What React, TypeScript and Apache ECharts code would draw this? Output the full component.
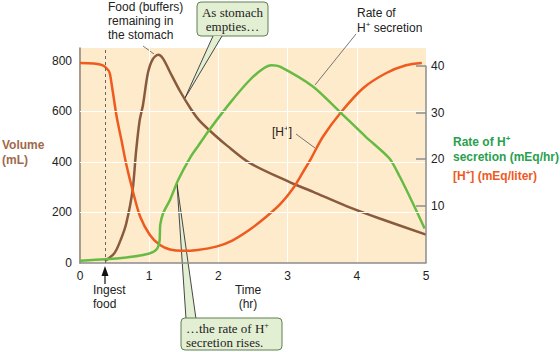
import React, { useEffect, useRef } from "react";
import * as echarts from "echarts";

// Time in hours
const volumeTime = [0.36, 0.5, 0.6, 0.67, 0.76, 0.81, 0.86, 0.91, 0.98, 1.05, 1.13, 1.2, 1.3, 1.44, 1.6, 1.73, 1.97, 2.12, 2.45, 3.03, 3.37, 3.85, 4.33, 5.0];
const volumeValues = [8, 40, 100, 158, 288, 440, 560, 625, 749, 805, 823, 808, 755, 682, 610, 562, 500, 465, 396, 320, 281, 225, 176, 112];

const hConcTime = [0, 0.2, 0.33, 0.4, 0.43, 0.47, 0.53, 0.6, 0.67, 0.76, 0.87, 1.01, 1.15, 1.3, 1.49, 1.7, 1.97, 2.2, 2.45, 2.7, 2.9, 3.08, 3.22, 3.34, 3.51, 3.78, 4.09, 4.42, 4.71, 4.94];
const hConcValues = [40.6, 40.5, 40.1, 39.2, 38.4, 34.8, 29.1, 24.0, 18.8, 13.4, 7.7, 3.8, 1.7, 0.7, 0.4, 0.6, 1.3, 2.6, 4.9, 7.8, 10.5, 13.8, 17.2, 20.2, 24.8, 30.2, 35.2, 38.4, 40.1, 40.6];

const rateTime = [0, 0.36, 0.67, 0.91, 1.06, 1.12, 1.15, 1.16, 1.2, 1.3, 1.42, 1.59, 1.71, 1.85, 2.16, 2.45, 2.65, 2.77, 2.89, 3.37, 3.75, 4.13, 4.47, 4.62, 4.81, 4.98];
const rateValues = [-1.7, -1.4, -1.0, -0.5, 0.2, 1.0, 2.6, 6.0, 8.4, 11.3, 15.6, 20.3, 22.9, 25.9, 31.9, 36.9, 39.4, 40.1, 39.8, 35.5, 30.2, 24.8, 20.2, 16.3, 10.6, 5.2];

const xTicks = [0, 1, 2, 3, 4, 5];
const volumeTicks = [0, 200, 400, 600, 800];
const rateTicks = [10, 20, 30, 40];
const volumeGrid = [200, 400, 600];
const ingestTime = 0.36;

const BROWN = "#8a5a3c";
const ORANGE = "#ef5a1e";
const GREEN = "#66bb44";
const SANS = "Liberation Sans, Arial, sans-serif";
const SERIF = "Liberation Serif, Times New Roman, serif";

const zip = (xs: number[], ys: number[]) => xs.map((x, i) => [x, ys[i]]);

export default function App() {
  const ref = useRef<HTMLDivElement>(null);
  useEffect(() => {
    if (!ref.current) return;
    const chart = echarts.init(ref.current, undefined, { renderer: "svg" });
    const lead = { stroke: "#555", lineWidth: 0.8 };
    const supRich = (color: string, size: number, bold: boolean, family: string) => ({
      n: { fontSize: size, fontWeight: bold ? "bold" : "normal", fill: color, fontFamily: family, lineHeight: 15 },
      s: { fontSize: Math.round(size * 0.65), fontWeight: bold ? "bold" : "normal", fill: color, fontFamily: family, verticalAlign: "top", lineHeight: 15 },
    });
    chart.setOption({
      animation: false,
      grid: { left: 80, right: 134, top: 48, bottom: 89, show: true, backgroundColor: "#fdebcc", borderWidth: 0 },
      xAxis: {
        type: "value", min: 0, max: 5, interval: 1,
        axisLine: { lineStyle: { color: "#8c8c8c", width: 1.5 } },
        axisTick: { show: false },
        axisLabel: { color: "#222", fontSize: 12, fontFamily: SANS, margin: 7, formatter: (v: number) => (xTicks.includes(v) ? String(v) : "") },
        splitLine: { show: true, lineStyle: { color: "#ffffff", width: 1 } },
      },
      yAxis: [
        {
          type: "value", min: 0, max: 850, interval: 200,
          axisLine: { show: true, lineStyle: { color: "#8b7b6b", width: 1.5 } },
          axisTick: { show: false },
          axisLabel: { color: "#222", fontSize: 12, fontFamily: SANS, margin: 8, formatter: (v: number) => (volumeTicks.includes(v) ? String(v) : "") },
          splitLine: { show: false },
        },
        {
          type: "value", min: -2.2, max: 43.8, position: "right",
          axisLine: { show: false },
          axisTick: { show: true, inside: true, length: 10, customValues: rateTicks, lineStyle: { color: "#8c8c8c", width: 1.5 } },
          axisLabel: { color: "#222", fontSize: 12, fontFamily: SANS, margin: 5, customValues: rateTicks },
          splitLine: { show: false },
        },
      ],
      series: [
        {
          type: "line", data: [], z: 1, silent: true,
          markLine: {
            silent: true, symbol: ["none", "none"], label: { show: false },
            lineStyle: { color: "#ffffff", width: 1, type: "solid" },
            data: [
              ...volumeGrid.map((v) => ({ yAxis: v })),
              { xAxis: ingestTime, lineStyle: { color: "#666", width: 1, type: [3, 3] } },
            ],
          },
        },
        {
          type: "line", data: [], yAxisIndex: 1, z: 5, silent: true,
          markLine: {
            silent: true, symbol: ["none", "none"], label: { show: false },
            lineStyle: { color: "#8c8c8c", width: 1.5, type: "solid" },
            data: [[{ coord: [5, 40] }, { coord: [5, -2.2] }]],
          },
        },
        { name: "Volume", type: "line", yAxisIndex: 0, data: zip(volumeTime, volumeValues), showSymbol: false, smooth: 0.3, lineStyle: { color: BROWN, width: 2.5 }, itemStyle: { color: BROWN } },
        { name: "[H+]", type: "line", yAxisIndex: 1, data: zip(hConcTime, hConcValues), showSymbol: false, smooth: 0.3, lineStyle: { color: ORANGE, width: 2.5 }, itemStyle: { color: ORANGE } },
        { name: "Rate", type: "line", yAxisIndex: 1, data: zip(rateTime, rateValues), showSymbol: false, smooth: 0.25, lineStyle: { color: GREEN, width: 2.5 }, itemStyle: { color: GREEN } },
      ],
      graphic: [
        // Food annotation
        { type: "text", left: 108, top: 0, style: { text: "Food (buffers)\nremaining in\nthe stomach", font: `12px ${SANS}`, fill: "#222", lineHeight: 14 } },
        { type: "line", shape: { x1: 143, y1: 46, x2: 154, y2: 54 }, style: lead },
        // As stomach empties callout
        { type: "rect", shape: { x: 197, y: 2, width: 71, height: 34, r: 4 }, style: { fill: "#e3efd2", stroke: "#5f7f55", lineWidth: 1 } },
        { type: "polygon", shape: { points: [[213, 36], [222, 36], [185, 98]] }, style: { fill: "#e3efd2", stroke: "none" } },
        { type: "line", shape: { x1: 213, y1: 36, x2: 185, y2: 98 }, style: { stroke: "#333", lineWidth: 0.9 } },
        { type: "line", shape: { x1: 222, y1: 36, x2: 185, y2: 98 }, style: { stroke: "#333", lineWidth: 0.9 } },
        { type: "text", x: 232.5, y: 5, style: { text: "As stomach\nempties…", font: `13px ${SERIF}`, fill: "#222", lineHeight: 14, align: "center" } },
        // Rate of H+ secretion annotation
        { type: "text", x: 357, y: 5, style: { text: "{n|Rate of}\n{n|H}{s|+}{n| secretion}", rich: supRich("#222", 12, false, SANS) } },
        { type: "line", shape: { x1: 356, y1: 34, x2: 315, y2: 85 }, style: lead },
        // [H+] annotation
        { type: "text", x: 272, y: 124, style: { text: "{n|[H}{s|+}{n|]}", rich: supRich("#222", 12, false, SANS) } },
        { type: "line", shape: { x1: 296, y1: 134, x2: 315, y2: 148 }, style: lead },
        // Bottom callout
        { type: "polygon", shape: { points: [[186, 319], [196, 319], [177, 184]] }, style: { fill: "#e3efd2", stroke: "none" } },
        { type: "line", shape: { x1: 186, y1: 319, x2: 177, y2: 184 }, style: { stroke: "#333", lineWidth: 0.9 } },
        { type: "line", shape: { x1: 196, y1: 319, x2: 177, y2: 184 }, style: { stroke: "#333", lineWidth: 0.9 } },
        { type: "rect", shape: { x: 181, y: 318, width: 101, height: 32, r: 4 }, style: { fill: "#e3efd2", stroke: "#5f7f55", lineWidth: 1 } },
        { type: "text", x: 186, y: 321, style: { text: "{n|…the rate of H}{s|+}\n{n|secretion rises.}", rich: { n: { fontSize: 13, fontFamily: SERIF, fill: "#222", lineHeight: 14 }, s: { fontSize: 8, fontFamily: SERIF, fill: "#222", verticalAlign: "top", lineHeight: 14 } } } },
        // Ingest food
        { type: "polygon", shape: { points: [[101.5, 276], [108.5, 276], [105, 266]] }, style: { fill: "#111" } },
        { type: "line", shape: { x1: 105, y1: 275, x2: 105, y2: 284 }, style: { stroke: "#111", lineWidth: 1.2 } },
        { type: "text", x: 93, y: 283, style: { text: "Ingest\nfood", font: `12px ${SANS}`, fill: "#222", lineHeight: 14 } },
        // Time label
        { type: "text", x: 248, y: 283, style: { text: "Time\n(hr)", font: `12px ${SANS}`, fill: "#222", lineHeight: 14, align: "center" } },
        // Left axis name
        { type: "text", x: 2, y: 137, style: { text: "Volume\n(mL)", font: `bold 12px ${SANS}`, fill: "#a0694a", lineHeight: 15 } },
        // Right axis names
        { type: "text", x: 453, y: 134, style: { text: "{n|Rate of H}{s|+}\n{n|secretion (mEq/hr)}", rich: supRich("#29a04d", 12, true, SANS) } },
        { type: "text", x: 453, y: 168, style: { text: "{n|[H}{s|+}{n|] (mEq/liter)}", rich: supRich("#ee5a23", 12, true, SANS) } },
      ],
    });
    return () => chart.dispose();
  }, []);
  return <div ref={ref} style={{ position: "absolute", left: 0, top: 0, width: 560, height: 352 }} />;
}
